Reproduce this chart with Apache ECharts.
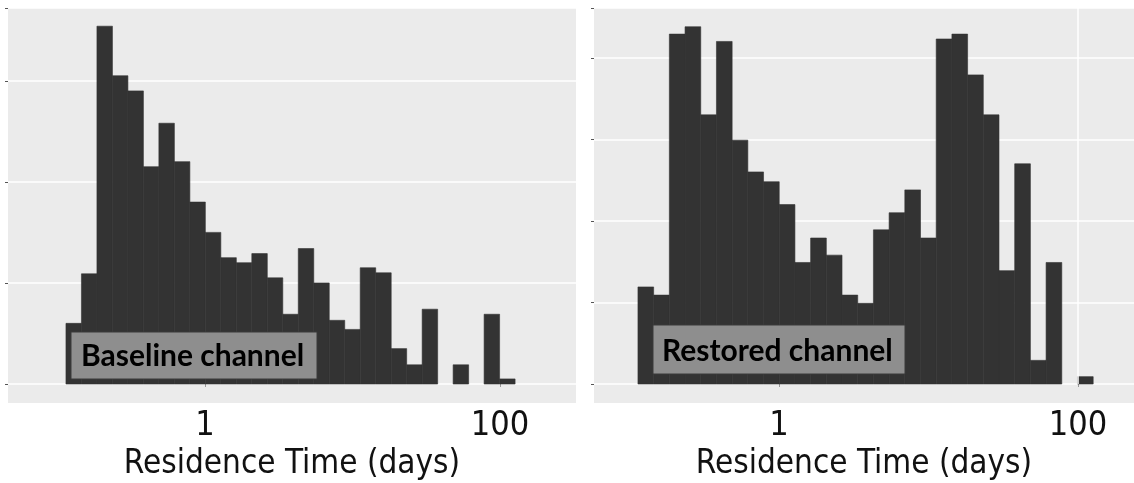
<!DOCTYPE html>
<html>
<head>
<meta charset="utf-8">
<style>
  html, body { margin: 0; padding: 0; background: #ffffff; }
  #chart { width: 1134px; height: 483px; }
</style>
<script src="https://cdn.jsdelivr.net/npm/echarts@6/dist/echarts.min.js"></script>
</head>
<body>
<div id="chart"></div>
<script>
// Histogram bins on a log10(days) scale
const binStartLog10 = -0.943;
const binWidthLog10 = 0.105;
// Bin counts (relative heights)
const baselineCounts = [6.0, 10.9, 35.4, 30.5, 29.0, 21.5, 25.8, 22.0, 18.0, 15.0, 12.5, 12.0, 12.9, 10.5, 6.9, 13.4, 10.0, 6.3, 5.4, 11.5, 11.0, 3.5, 1.9, 7.4, 0, 1.9, 0, 6.9, 0.5];
const restoredCounts = [11.9, 10.9, 42.9, 43.8, 33.0, 42.0, 29.9, 26.0, 24.8, 22.0, 14.9, 17.9, 15.8, 10.9, 9.9, 18.9, 21.0, 23.8, 17.9, 42.3, 42.9, 37.9, 33.0, 13.9, 27.0, 2.9, 14.9, 0, 0.9];
const xTickValues = [0, 2];          // log10 of 1 and 100 days
const panelLabels = ['Baseline channel', 'Restored channel'];
const xAxisTitle = 'Residence Time (days)';

function toBins(counts) {
  return counts.map((c, i) => [
    binStartLog10 + i * binWidthLog10,
    binStartLog10 + (i + 1) * binWidthLog10,
    c
  ]);
}

function renderBar(params, api) {
  const c = api.value(2);
  if (!c) return null;
  const p0 = api.coord([api.value(0), 0]);
  const p1 = api.coord([api.value(1), c]);
  return {
    type: 'rect',
    shape: { x: p0[0], y: p1[1], width: p1[0] - p0[0], height: p0[1] - p1[1] },
    style: { fill: '#333333', stroke: '#333333', lineWidth: 0.6 }
  };
}

const labelFont = "'Liberation Sans Narrow', 'DejaVu Sans Condensed', 'Liberation Sans', Arial, sans-serif";

function makeXAxis(gridIndex, min, max) {
  return {
    type: 'value', gridIndex, min, max,
    axisLine: { show: false, onZero: false },
    axisTick: { show: true, customValues: xTickValues, length: 3, lineStyle: { color: '#999' } },
    axisLabel: {
      customValues: xTickValues,
      formatter: v => String(Math.round(Math.pow(10, v))),
      fontFamily: labelFont, fontSize: 34, color: '#111', margin: 25
    },
    splitLine: { show: false },
    name: xAxisTitle, nameLocation: 'middle', nameGap: 57,
    nameTextStyle: { fontFamily: labelFont, fontSize: 33, color: '#111' }
  };
}

function makeYAxis(gridIndex, max) {
  return {
    type: 'value', gridIndex, min: 0, max, interval: 10,
    axisLine: { show: false, onZero: false },
    axisTick: { show: true, length: 3, lineStyle: { color: '#555' } },
    axisLabel: { show: false },
    splitLine: { show: true, lineStyle: { color: '#ffffff', width: 1.5 } }
  };
}

const boxFont = "bold 30px Lato, 'Noto Sans', sans-serif";

const chart = echarts.init(document.getElementById('chart'), null, { renderer: 'canvas' });
chart.setOption({
  animation: false,
  backgroundColor: '#ffffff',
  grid: [
    { left: 8, right: 1134 - 576, top: 8, bottom: 99, containLabel: false, outerBoundsMode: 'none' },
    { left: 594, right: 0, top: 8, bottom: 99, containLabel: false, outerBoundsMode: 'none' }
  ],
  xAxis: [makeXAxis(0, -1.336, 2.515), makeXAxis(1, -1.237, 2.375)],
  yAxis: [makeYAxis(0, 37.2), makeYAxis(1, 46.1)],
  graphic: [
    { type: 'rect', z: -100, shape: { x: 8, y: 8, width: 568, height: 395 }, style: { fill: '#ebebeb' } },
    { type: 'rect', z: -100, shape: { x: 594, y: 8, width: 540, height: 395 }, style: { fill: '#ebebeb' } },
    { type: 'rect', z: 100, shape: { x: 71, y: 332, width: 246, height: 47 }, style: { fill: '#8e8e8e', stroke: '#3a3a3a', lineWidth: 1 } },
    { type: 'text', z: 101, x: 81, y: 356, style: { text: panelLabels[0], fill: '#000', font: boxFont, verticalAlign: 'middle' } },
    { type: 'rect', z: 100, shape: { x: 653, y: 325, width: 252, height: 49 }, style: { fill: '#8e8e8e', stroke: '#3a3a3a', lineWidth: 1 } },
    { type: 'text', z: 101, x: 662, y: 351, style: { text: panelLabels[1], fill: '#000', font: boxFont, verticalAlign: 'middle' } }
  ],
  series: [
    {
      type: 'custom', xAxisIndex: 0, yAxisIndex: 0,
      renderItem: renderBar, encode: { x: [0, 1], y: 2 },
      data: toBins(baselineCounts)
    },
    {
      type: 'custom', xAxisIndex: 1, yAxisIndex: 1,
      renderItem: renderBar, encode: { x: [0, 1], y: 2 },
      data: toBins(restoredCounts),
      markLine: {
        silent: true, symbol: 'none', label: { show: false },
        lineStyle: { color: '#ffffff', width: 1.5, type: 'solid' },
        data: [{ xAxis: 2 }]
      }
    }
  ]
});
</script>
</body>
</html>
